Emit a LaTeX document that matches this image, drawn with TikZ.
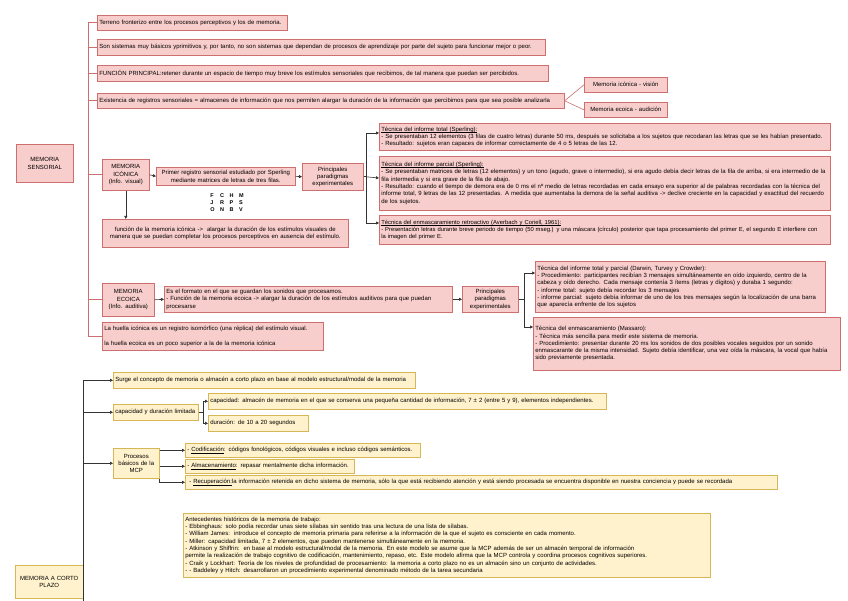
\documentclass[tikz,border=0pt]{standalone}
\usepackage{fontspec}
\setmainfont{Liberation Sans}
\usetikzlibrary{arrows.meta,calc}
\definecolor{pfill}{HTML}{F8CECC}
\definecolor{pline}{HTML}{CD6F6F}
\definecolor{yfill}{HTML}{FFF2CC}
\definecolor{yline}{HTML}{D6B656}
\definecolor{redcon}{HTML}{CD6F6F}
\definecolor{darkcon}{HTML}{333333}
\newcommand\fsz{\fontsize{6}{7.3}\selectfont}
\newcommand\uln[1]{\setbox0\hbox{#1}\rlap{\vrule height -0.7pt depth 1.1pt width \wd0}\box0}
\tikzset{
  box/.style={line width=0.6pt, inner xsep=2pt, inner ysep=1pt, font=\fsz, anchor=north west},
  pbox/.style={box, draw=pline, fill=pfill},
  ybox/.style={box, draw=yline, fill=yfill},
  redl/.style={draw=redcon, line width=0.6pt},
  arr/.style={draw=darkcon, line width=0.6pt, -{Triangle[length=3pt,width=3pt]}},
  darkl/.style={draw=darkcon, line width=0.6pt}
}
\begin{document}
\begin{tikzpicture}[x=1pt,y=-1pt]
\useasboundingbox (0,0) rectangle (848,601);
\fill[white] (0,0) rectangle (848,601);

% ---------- MEMORIA SENSORIAL ----------
\node[pbox, minimum width=190pt, text width=186pt, minimum height=15pt, align=left] (terreno) at (97,15) {Terreno fronterizo entre los procesos perceptivos y los de memoria.};
\node[pbox, minimum width=448pt, text width=444pt, minimum height=16pt, align=left] (sonsist) at (97,39) {Son sistemas muy básicos yprimitivos y, por tanto, no son sistemas que dependan de procesos de aprendizaje por parte del sujeto para funcionar mejor o peor.};
\node[pbox, minimum width=451pt, text width=447pt, minimum height=16pt, align=left] (funcion) at (97,65) {FUNCIÓN PRINCIPAL:retener durante un espacio de tiempo muy breve los estímulos sensoriales que recibimos, de tal manera que puedan ser percibidos.};
\node[pbox, minimum width=467pt, text width=463pt, minimum height=15pt, align=left] (existencia) at (97,93) {Existencia de registros sensoriales = almacenes de información que nos permiten alargar la duración de la información que percibimos para que sea posible analizarla};
\node[pbox, minimum width=83pt, text width=79pt, minimum height=15pt, align=center] (vision) at (584,77) {Memoria icónica - visión};
\node[pbox, minimum width=83pt, text width=79pt, minimum height=15pt, align=center] (audicion) at (584,102) {Memoria ecoica - audición};

\node[pbox, minimum width=57pt, text width=53pt, minimum height=38pt, align=center] (sensorial) at (16,144) {MEMORIA\\SENSORIAL};

\node[pbox, minimum width=47pt, text width=45pt, minimum height=31pt, align=center, inner xsep=1pt] (iconica) at (102,159) {MEMORIA\\ICÓNICA\\(Info. visual)};
\node[pbox, minimum width=139pt, text width=135pt, minimum height=18pt, align=center] (primer) at (156,167) {Primer registro sensorial estudiado por Sperling\\mediante matrices de letras de tres filas.};
\node[pbox, minimum width=61pt, text width=57pt, minimum height=27pt, align=center] (princ1) at (302,163) {Principales\\paradigmas\\experimentales};
\node[font=\fontsize{5.5}{7}\selectfont\bfseries, inner sep=0pt] (letras) at (227,203) {%
  \begin{tabular}{@{}l@{\hspace{5.5pt}}l@{\hspace{5.5pt}}l@{\hspace{5.5pt}}l@{}}F&C&H&M\\J&R&P&S\\O&N&B&V\end{tabular}};
\node[pbox, minimum width=246pt, text width=242pt, minimum height=28pt, align=center] (funcIcon) at (102,219) {función de la memoria icónica ->\ \ alargar la duración de los estímulos visuales de\\manera que se puedan completar los procesos perceptivos en ausencia del estímulo.};

\node[pbox, minimum width=451pt, text width=447pt, minimum height=27pt, align=left] (tot) at (379,123) {\uln{Técnica del informe total (Sperling):}\\- Se presentaban 12 elementos (3 filas de cuatro letras) durante 50 ms, después se solicitaba a los sujetos que recodaran las letras que se les habían presentado.\\- Resultado: sujetos eran capaces de informar correctamente de 4 o 5 letras de las 12.};
\node[pbox, minimum width=451pt, text width=447pt, minimum height=54pt, align=left] (parc) at (379,156) {\uln{Técnica del informe parcial (Sperling):}\\- Se presentaban matrices de letras (12 elementos) y un tono (agudo, grave o intermedio), si era agudo debía decir letras de la fila de arriba, si era intermedio de la\\fila intermedia y si era grave de la fila de abajo.\\- Resultado: cuando el tiempo de demora era de 0 ms el nº medio de letras recordadas en cada ensayo era superior al de palabras recordadas con la técnica del\\informe total, 9 letras de las 12 presentadas. A medida que aumentaba la demora de la señal auditiva -> declive creciente en la capacidad y exactitud del recuerdo\\de los sujetos.};
\node[pbox, minimum width=451pt, text width=447pt, minimum height=29pt, align=left, font=\fontsize{5.85}{7.3}\selectfont] (enm) at (379,215) {\uln{Técnica del enmascaramiento retroactivo (Averbach y Coriell, 1961):}\\- Presentación letras durante breve periodo de tiempo (50 mseg.) y una máscara (círculo) posterior que tapa procesamiento del primer E, el segundo E interfiere con\\la imagen del primer E.};

\node[pbox, minimum width=52pt, text width=50pt, minimum height=33pt, align=center, inner xsep=1pt] (ecoica) at (102,283) {MEMORIA\\ECOICA\\(Info. auditiva)};
\node[pbox, minimum width=288pt, text width=284pt, minimum height=26pt, align=left] (formato) at (164,286) {Es el formato en el que se guardan los sonidos que procesamos.\\- Función de la memoria ecoica -> alargar la duración de los estímulos auditivos para que puedan\\procesarse};
\node[pbox, minimum width=56pt, text width=54pt, minimum height=26pt, align=center, inner xsep=1pt] (princ2) at (462,286) {Principales\\paradigmas\\experimentales};
\node[pbox, minimum width=290pt, text width=286pt, minimum height=51pt, align=left] (darwin) at (535,261) {Técnica del informe total y parcial (Darwin, Turvey y Crowder):\\- Procedimiento: participantes recibían 3 mensajes simultáneamente en oído izquierdo, centro de la\\cabeza y oído derecho. Cada mensaje contenía 3 ítems (letras y dígitos) y duraba 1 segundo:\\- informe total: sujeto debía recordar los 3 mensajes\\- informe parcial: sujeto debía informar de uno de los tres mensajes según la localización de una barra\\que aparecía enfrente de los sujetos};
\node[pbox, minimum width=307pt, text width=303pt, minimum height=53pt, align=left] (massaro) at (533,317) {Técnica del enmascaramiento (Massaro):\\- Técnica más sencilla para medir este sistema de memoria.\\- Procedimiento: presentar durante 20 ms los sonidos de dos posibles vocales seguidos por un sonido\\enmascarante de la misma intensidad. Sujeto debía identificar, una vez oída la máscara, la vocal que había\\sido previamente presentada.};
\node[pbox, minimum width=221pt, text width=217pt, minimum height=28pt, align=left] (huella) at (102,322) {La huella icónica es un registro isomórfico (una réplica) del estímulo visual.\\[8pt]la huella ecoica es un poco superior a la de la memoria icónica};

% connectors (sensorial)
\coordinate (sp) at (88,0);
\draw[redl] (terreno.west) -| (sp |- huella.west) -- (huella.west);
\draw[redl] (sp |- sonsist.west) -- (sonsist.west);
\draw[redl] (sp |- funcion.west) -- (funcion.west);
\draw[redl] (sp |- existencia.west) -- (existencia.west);
\draw[redl] (sp |- iconica.west) -- (iconica.west);
\draw[redl] (sp |- ecoica.west) -- (ecoica.west);
\draw[redl] (existencia.east) -- (vision.west);
\draw[redl] (existencia.east) -- (audicion.west);

\draw[arr] (iconica.east) -- (primer.west);
\draw[arr] (primer.east) -- (princ1.west);
\draw[arr] (iconica.south) -- (funcIcon.north -| iconica.south);
\coordinate (f1) at (366,0);
\draw[arr] (princ1.east) -- (f1 |- princ1.east) |- ($(tot.north west)+(0,10)$);
\draw[arr] (f1 |- princ1.east) -- ($(parc.north west)+(0,22)$);
\draw[arr] (f1 |- princ1.east) |- ($(enm.north west)+(0,8)$);

\draw[arr] (ecoica.east) -- (formato.west);
\draw[arr] (formato.east) -- (princ2.west);
\coordinate (f2) at (524,0);
\draw[arr] (princ2.east) -- (f2 |- princ2.east) |- ($(darwin.north west)+(0,12)$);
\draw[arr] (f2 |- princ2.east) |- ($(massaro.north west)+(0,10)$);

% ---------- MEMORIA A CORTO PLAZO ----------
\node[ybox, minimum width=302pt, text width=298pt, minimum height=16pt, align=left] (surge) at (113,372) {Surge el concepto de memoria o almacén a corto plazo en base al modelo estructural/modal de la memoria};
\node[ybox, minimum width=85pt, text width=81pt, minimum height=16pt, align=left] (capdur) at (113,404) {capacidad y duración limitada};
\node[ybox, minimum width=398pt, text width=394pt, minimum height=16pt, align=left] (capac) at (208,393) {capacidad: almacén de memoria en el que se conserva una pequeña cantidad de información, 7 ± 2 (entre 5 y 9), elementos independientes.};
\node[ybox, minimum width=100pt, text width=96pt, minimum height=16pt, align=left] (durac) at (208,415) {duración: de 10 a 20 segundos};
\node[ybox, minimum width=46pt, text width=44pt, minimum height=30pt, align=center, inner xsep=1pt] (procesos) at (113,448) {Procesos\\básicos de la\\MCP};
\node[ybox, minimum width=235pt, text width=231pt, minimum height=14pt, align=left] (codif) at (185,443) {- \uln{Codificación}: códigos fonológicos, códigos visuales e incluso códigos semánticos.};
\node[ybox, minimum width=169pt, text width=165pt, minimum height=14pt, align=left] (almac) at (185,459) {- \uln{Almacenamiento}: repasar mentalmente dicha información.};
\node[ybox, minimum width=592pt, text width=588pt, minimum height=14pt, align=left] (recup) at (185,475) {\ - \uln{Recuperación:} la información retenida en dicho sistema de memoria, sólo la que está recibiendo atención y está siendo procesada se encuentra disponible en nuestra conciencia y puede se recordada};
\node[ybox, minimum width=527pt, text width=523pt, minimum height=64pt, align=left] (antec) at (183,513) {Antecedentes históricos de la memoria de trabajo:\\- Ebbinghaus: solo podía recordar unas siete sílabas sin sentido tras una lectura de una lista de sílabas.\\- William James:\ \ introduce el concepto de memoria primaria para referirse a la información de la que el sujeto es consciente en cada momento.\\- Miller: capacidad limitada, 7 ± 2 elementos, que pueden mantenerse simultáneamente en la memoria.\\- Atkinson y Shiffrin:\ \ en base al modelo estructural/modal de la memoria. En este modelo se asume que la MCP además de ser un almacén temporal de información\\permite la realización de trabajo cognitivo de codificación, mantenimiento, repaso, etc. Este modelo afirma que la MCP controla y coordina procesos cognitivos superiores.\\- Craik y Lockhart: Teoría de los niveles de profundidad de procesamiento: la memoria a corto plazo no es un almacén sino un conjunto de actividades.\\- - Baddeley y Hitch: desarrollaron un procedimiento experimental denominado método de la tarea secundaria};
\node[ybox, minimum width=68pt, text width=64pt, minimum height=33pt, align=center] (mcp) at (15,565) {MEMORIA A CORTO\\PLAZO};

\coordinate (sp2) at (83,601);
\draw[arr] (sp2) |- (surge.west);
\draw[arr] (sp2 |- capdur.west) -- (capdur.west);
\draw[arr] (sp2 |- procesos.west) -- (procesos.west);
\coordinate (f3) at (203,0);
\draw[arr] (capdur.east) -- (f3 |- capdur.east) |- (capac.west);
\draw[arr] (f3 |- capdur.east) |- (durac.west);
\draw[arr] (procesos.east |- codif.west) -- (codif.west);
\draw[arr] (procesos.east |- almac.west) -- (almac.west);
\draw[arr] (procesos.south east) |- (recup.west);
\end{tikzpicture}
\end{document}
